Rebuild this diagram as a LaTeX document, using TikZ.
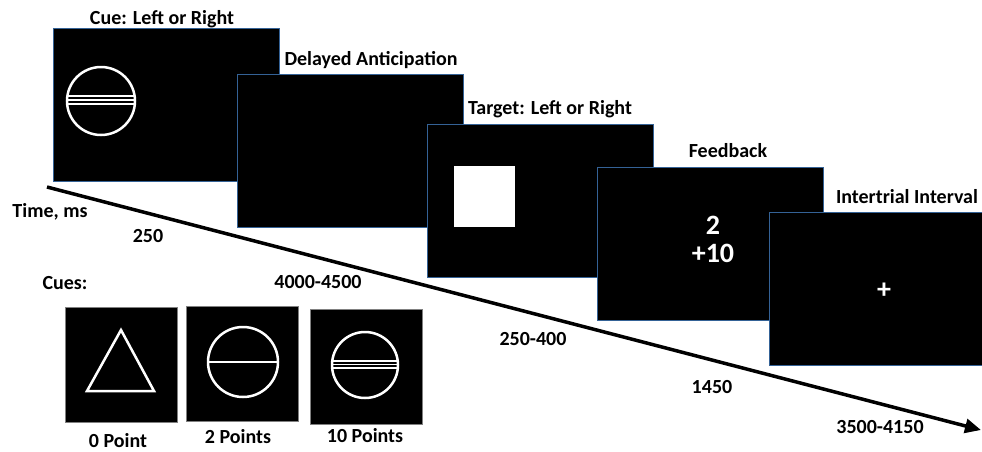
\documentclass[tikz,border=0pt]{standalone}
\usepackage{fontspec}
\setmainfont{Carlito}
\usetikzlibrary{arrows.meta}
\definecolor{edgeblue}{RGB}{52,98,150}

\begin{document}
\begin{tikzpicture}[x=1pt,y=-1pt,
  screen/.style={draw=edgeblue,line width=1pt,fill=black,minimum width=226pt,minimum height=153pt,inner sep=0pt,anchor=north west},
  cuebox/.style={draw=gray,line width=0.6pt,fill=black,minimum width=112pt,minimum height=115pt,inner sep=0pt,anchor=north west},
  lbl/.style={font=\bfseries\fontsize{20}{20}\selectfont,anchor=base,inner sep=0pt},
  big/.style={text=white,font=\bfseries\fontsize{28}{28}\selectfont,align=center,inner sep=0pt},
  symb/.style={draw=white,line width=2.5pt},
  bar/.style={draw=white,line width=1.2pt}]

\clip (0,0) rectangle (982,451);

\node[screen] (s1) at (53,28) {};
\node[screen] (s2) at (237,74) {};
\node[screen] (s3) at (427,124) {};
\node[screen] (s4) at (597,167) {};
\node[screen] (s5) at (769,212) {};

\draw[symb] (101,101) circle [radius=34pt];
\draw[bar] (68,96) -- (134,96);
\draw[bar] (67,100) -- (135,100);
\draw[bar] (67,104) -- (135,104);

\draw[white,fill=white] (454,166) rectangle (514,226);

\node[big] (points) at (713,239) {2\\+10};
\node[big] (fix) at (884,291) {+};

\node[lbl] (l1) at (162,24) {Cue: Left or Right};
\node[lbl] (l2) at (371,65) {Delayed Anticipation};
\node[lbl] (l3) at (550,114) {Target: Left or Right};
\node[lbl] (l4) at (728,157) {Feedback};
\node[lbl] (l5) at (907,203) {Intertrial Interval};

\coordinate (t0) at (47,187);
\coordinate (t1) at (981,430);
\draw[line width=3.5pt,-{Triangle[length=16pt,width=14pt]}] (t0) -- (t1);

\node[lbl] (time) at (50,217) {Time, ms};
\node[lbl] (d1) at (148,242) {250};
\node[lbl] (d2) at (318,288) {4000-4500};
\node[lbl] (d3) at (533,345) {250-400};
\node[lbl] (d4) at (712,393) {1450};
\node[lbl] (d5) at (880,433) {3500-4150};

\node[lbl] (cues) at (65,289) {Cues:};
\node[cuebox] (c0) at (65,307) {};
\node[cuebox] (c2) at (186,306) {};
\node[cuebox] (c10) at (310,309) {};

\draw[symb,line join=miter] (121,330) -- (154,391) -- (87,391) -- cycle;

\draw[symb] (243,362) circle [radius=35pt];
\draw[bar] (208,362) -- (278,362);

\draw[symb] (365,365) circle [radius=33pt];
\draw[bar] (332,361) -- (398,361);
\draw[bar] (332,364.5) -- (398,364.5);
\draw[bar] (332,368) -- (398,368);

\node[lbl] (p0) at (118,447) {0 Point};
\node[lbl] (p2) at (238,443) {2 Points};
\node[lbl] (p10) at (365,442) {10 Points};
\end{tikzpicture}
\end{document}
